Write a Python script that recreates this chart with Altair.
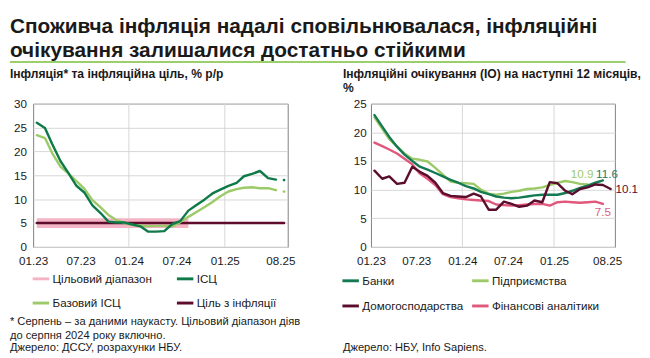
import altair as alt
import pandas as pd

FONT = "Liberation Sans"
TXT = "#1a1a1a"

# ---------------- data ----------------
# monthly points, plotted mid-month, Jan 2023 .. Aug 2025
month_dates = [d.strftime("%Y/%m/%d") for d in (pd.date_range("2023-01-01", "2025-08-01", freq="MS") + pd.Timedelta(days=14))]

# Left panel: inflation, % y/y (Jan 2023 .. Jul 2025)
cpi = [26.0, 24.9, 21.5, 18.0, 15.5, 12.8, 11.4, 8.7, 7.1, 5.3, 5.1, 5.1,
       4.7, 4.3, 3.2, 3.2, 3.3, 4.8, 5.4, 7.6, 8.8, 9.9, 11.2, 12.0,
       12.8, 13.4, 14.8, 15.3, 15.9, 14.4, 14.1]
core = [23.4, 22.8, 19.6, 16.8, 15.4, 13.8, 12.2, 9.8, 8.3, 6.7, 5.6, 5.0,
        4.6, 4.5, 4.3, 4.4, 4.4, 4.3, 5.2, 6.3, 7.3, 8.3, 9.4, 10.6,
        11.6, 12.1, 12.4, 12.5, 12.3, 12.3, 11.9]
nowcast_date = "2025/08/15"
cpi_nowcast = 14.0
core_nowcast = 11.6
target_dates = ["2023/01/15", "2025/08/15"]
target_values = [5, 5]
band_dates = ["2023/01/15", "2024/08/15"]
band_values = [5, 5]          # band 4..6 drawn around 5

# legend order (column-major 2x2 grid)
left_names = ["Цільовий діапазон", "Базовий ІСЦ", "ІСЦ", "Ціль з інфляції"]
left_colors = ["#f3b4c5", "#9dca68", "#0f7a48", "#5e0b2c"]

# Right panel: inflation expectations, %
banks = [23.0, 21.0, 19.2, 17.5, 16.1, 15.0, 14.0, 13.5, 12.9, 12.3, 11.7, 11.2,
         10.6, 10.2, 9.6, 9.2, 8.8, 8.6, 8.5, 8.6, 8.8, 9.0, 9.1, 9.1,
         9.1, 9.4, 9.8, 10.3, 10.7, 11.2, 11.6]
enterprises = [22.6, 20.6, 18.8, 17.5, 16.3, 15.4, 15.2, 14.9, 13.8, 12.6, 11.4, 11.2,
               11.1, 11.0, 10.0, 9.3, 9.1, 9.3, 9.6, 9.8, 10.1, 10.2, 10.4, 10.8,
               11.2, 11.5, 11.3, 11.0, 10.9]
households = [13.3, 11.9, 12.3, 11.0, 11.2, 14.0, 13.1, 12.4, 11.2, 9.4, 8.9, 8.8,
              8.7, 9.3, 8.8, 6.5, 6.5, 7.9, 7.5, 7.0, 7.2, 8.1, 7.8, 11.3,
              11.1, 9.8, 9.2, 10.1, 10.4, 10.9, 10.8, 10.1]
analysts = [18.2, 17.6, 17.0, 16.3, 15.4, 14.4, 12.8, 11.9, 10.8, 9.2, 8.7, 8.5,
            8.3, 8.2, 8.1, 8.0, 7.4, 7.3, 7.2, 7.3, 7.4, 7.5, 7.5, 7.2,
            7.8, 7.9, 7.8, 7.7, 7.8, 7.9, 7.5]

right_names = ["Банки", "Домогосподарства", "Підприємства", "Фінансові аналітики"]
right_colors = ["#157a52", "#5a0d2c", "#9dca68", "#e0587c"]
label_colors = {"Банки": "#1d7b62", "Підприємства": "#9dca68",
                "Домогосподарства": "#5a0d2c", "Фінансові аналітики": "#d9607f"}

vgrid_dates = ["2024/01/01", "2025/01/01"]

title1 = "Споживча інфляція надалі сповільнювалася, інфляційні"
title2 = "очікування залишалися достатньо стійкими"
sub_left = "Інфляція* та інфляційна ціль, % р/р"
sub_right1 = "Інфляційні очікування (ІО) на наступні 12 місяців,"
sub_right2 = "%"
foot_left = ["* Серпень – за даними наукасту. Цільовий діапазон діяв",
             "до серпня 2024 року включно.",
             "Джерело: ДССУ, розрахунки НБУ."]
foot_right = "Джерело: НБУ, Info Sapiens."


def series_frame(names, lists):
    rows = []
    for n, vals in zip(names, lists):
        for d, v in zip(month_dates, vals):
            rows.append({"date": d, "value": v, "series": n})
    return pd.DataFrame(rows)


left_df = pd.concat([
    pd.DataFrame({"date": band_dates, "value": band_values, "series": "Цільовий діапазон"}),
    series_frame(["ІСЦ", "Базовий ІСЦ"], [cpi, core]),
    pd.DataFrame({"date": target_dates, "value": target_values, "series": "Ціль з інфляції"}),
], ignore_index=True)
nowcast_df = pd.DataFrame({"date": [nowcast_date, nowcast_date],
                           "value": [cpi_nowcast, core_nowcast],
                           "series": ["ІСЦ", "Базовий ІСЦ"]})
right_df = series_frame(["Банки", "Підприємства", "Домогосподарства", "Фінансові аналітики"],
                        [banks, enterprises, households, analysts])
vgrid_df = pd.DataFrame({"date": vgrid_dates})


def dt(y, m, d=1):
    return alt.DateTime(year=y, month=m, date=d)


label_dates = [dt(2023, 1), dt(2023, 7), dt(2024, 1), dt(2024, 7), dt(2025, 1), dt(2025, 8)]

X_AXIS = alt.Axis(values=label_dates, format="%m.%y", grid=False, ticks=False, domain=False,
                  labelPadding=9, labelFlush=False, labelOverlap=False, title=None,
                  labelFontSize=12, labelColor=TXT, labelFont=FONT)


def y_axis(vals, pad):
    return alt.Axis(values=vals, grid=True, gridColor="#d6d6d6", ticks=False, domain=False,
                    labelPadding=pad, labelOverlap=False, title=None, labelFontSize=12,
                    labelColor=TXT, labelFont=FONT)


def text_layer(text, x, y, size=12, bold=False, color=TXT, align="left"):
    return alt.Chart(pd.DataFrame({"t": [text]})).mark_text(
        align=align, baseline="alphabetic", font=FONT, fontSize=size,
        fontWeight="bold" if bold else "normal", color=color
    ).encode(x=alt.value(x), y=alt.value(y), text="t:N")


def legend(x, y, colpad, rowpad):
    return alt.Legend(orient="none", legendX=x, legendY=y, columns=2, columnPadding=colpad,
                      rowPadding=rowpad, symbolType="stroke", symbolStrokeWidth=3, symbolSize=289,
                      labelFontSize=12, labelFont=FONT, labelColor=TXT, labelOffset=2,
                      title=None, padding=0, symbolOpacity=1)


# ---------------- left panel ----------------
LW, H = 263, 148
xs_left = alt.Scale(domain=[dt(2023, 1, 1), dt(2025, 8, 29)])
ys_left = alt.Scale(domain=[0, 30], nice=False)
cs_left = alt.Scale(domain=left_names, range=left_colors)
leg_left = legend(-2, 171, 19, 9)
YAX_L = y_axis(list(range(0, 31, 5)), 7)


def XL():
    return alt.X("date:T", scale=xs_left, axis=X_AXIS)


def YL():
    return alt.Y("value:Q", scale=ys_left, axis=YAX_L)


base_l = alt.Chart(left_df)
vg_l = alt.Chart(vgrid_df).mark_rule(color="#d6d6d6", strokeWidth=1).encode(x=XL())


def lline(name, width, cap="round"):
    return base_l.transform_filter(alt.datum.series == name).mark_line(
        strokeWidth=width, strokeCap=cap, strokeJoin="round").encode(
        x=XL(), y=YL(), color=alt.Color("series:N", scale=cs_left, legend=leg_left))


dots_l = alt.Chart(nowcast_df).mark_circle(size=8, opacity=1).encode(
    x=XL(), y=YL(), color=alt.Color("series:N", scale=cs_left, legend=None))

anchor = alt.Chart(pd.DataFrame({"a": [0]})).mark_rule(strokeOpacity=0, strokeWidth=1).encode(
    x=alt.value(-24), x2=alt.value(-23), y=alt.value(-92))
green_rule = alt.Chart(pd.DataFrame({"a": [0]})).mark_rule(color="#9ccf6c", strokeWidth=2).encode(
    x=alt.value(-24), x2=alt.value(612), y=alt.value(-43))

left = alt.layer(
    vg_l,
    lline("Цільовий діапазон", 10, "butt"),
    lline("Ціль з інфляції", 2.5),
    lline("Базовий ІСЦ", 2.5),
    lline("ІСЦ", 2.5),
    dots_l,
    anchor, green_rule,
    text_layer(title1, -24, -73, 21.5, True),
    text_layer(title2, -24, -48, 21.5, True),
    text_layer(sub_left, -24, -26, 12.5, True),
    text_layer(foot_left[0], -24, 229, 11.5),
    text_layer(foot_left[1], -24, 243, 11.5),
    text_layer(foot_left[2], -24, 256, 11.5),
).properties(width=LW, height=H)

# ---------------- right panel ----------------
RW = 252
xs_right = alt.Scale(domain=[dt(2023, 1, 1), dt(2025, 9, 1)])
ys_right = alt.Scale(domain=[0, 25], nice=False)
cs_right = alt.Scale(domain=right_names, range=right_colors)
leg_right = legend(-31, 173, 2, 10)
YAX_R = y_axis(list(range(0, 26, 5)), 5)


def XR():
    return alt.X("date:T", scale=xs_right, axis=X_AXIS)


def YR():
    return alt.Y("value:Q", scale=ys_right, axis=YAX_R)


base_r = alt.Chart(right_df)
vg_r = alt.Chart(vgrid_df).mark_rule(color="#d6d6d6", strokeWidth=1).encode(x=XR())


def rline(name):
    return base_r.transform_filter(alt.datum.series == name).mark_line(
        strokeWidth=2.5, strokeCap="round", strokeJoin="round").encode(
        x=XR(), y=YR(), color=alt.Color("series:N", scale=cs_right, legend=leg_right))


def end_label(name, dx, dy, align):
    return base_r.transform_filter(alt.datum.series == name).transform_window(
        rank="rank()", sort=[alt.SortField("date", order="descending")]
    ).transform_filter(alt.datum.rank == 1).mark_text(
        dx=dx, dy=dy, align=align, baseline="middle", font=FONT, fontSize=12,
        color=label_colors[name]).encode(
        x=XR(), y=YR(), text=alt.Text("value:Q", format=".1f"))


right = alt.layer(
    vg_r,
    rline("Фінансові аналітики"),
    rline("Підприємства"),
    rline("Банки"),
    rline("Домогосподарства"),
    end_label("Підприємства", 6, -11, "right"),
    end_label("Банки", -7, -7, "left"),
    end_label("Домогосподарства", 5, 0, "left"),
    end_label("Фінансові аналітики", 0, 8, "center"),
    text_layer(sub_right1, -29, -26, 12.5, True),
    text_layer(sub_right2, -29, -12, 12.5, True),
    text_layer(foot_right, -29, 256, 11.5),
).properties(width=RW, height=H)

chart = alt.hconcat(left, right, spacing=86, bounds="flush", padding=0).resolve_scale(
    x="independent", y="independent", color="independent"
).resolve_legend(color="independent").configure(font=FONT).configure_view(
    stroke="#7d7d7d", strokeWidth=1)

chart.save("out.html", embed_options={"renderer": "svg", "actions": False})
